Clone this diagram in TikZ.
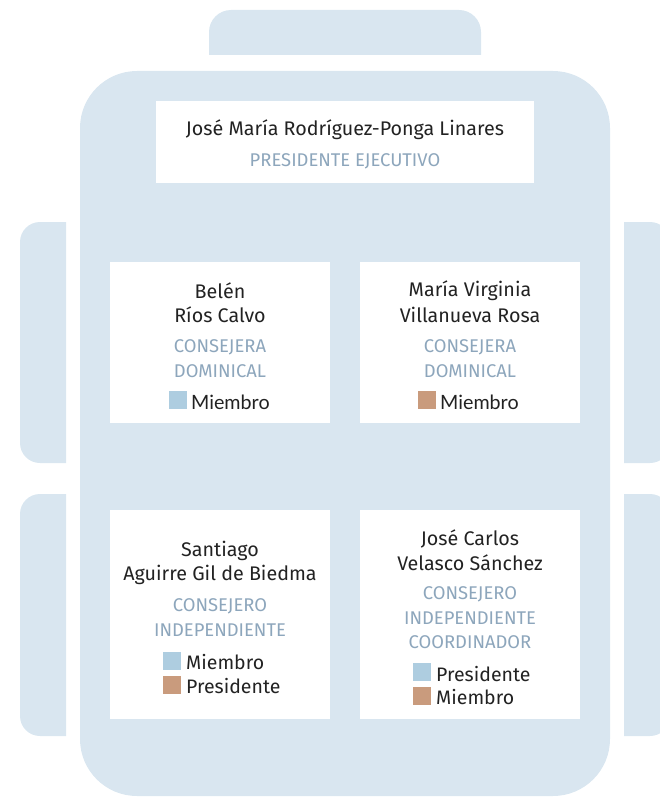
\documentclass[tikz,border=0pt]{standalone}
\usepackage{fontspec}
\setmainfont{Fira Sans}
\newfontfamily\legendfont{Lato}
\definecolor{bodyblue}{HTML}{D9E6F0}
\definecolor{roletext}{HTML}{8DA6BC}
\definecolor{nametext}{HTML}{222222}
\definecolor{sqblue}{HTML}{AECDE0}
\definecolor{sqtan}{HTML}{C99B7D}
\tikzset{
  namel/.style={text=nametext, font=\fontsize{19.7}{22}\selectfont, inner sep=0pt, anchor=center},
  rolel/.style={text=roletext, font=\fontsize{18.4}{21}\selectfont, inner sep=0pt, anchor=center},
  legl/.style={text=nametext, font=\fontsize{19.5}{22}\selectfont, inner sep=0pt, anchor=west},
  leglato/.style={legl, font=\legendfont\fontsize{19.7}{22}\selectfont},
  sq/.style={minimum size=18pt, inner sep=0pt, draw=none, anchor=west},
}
\begin{document}
\begin{tikzpicture}[x=1pt,y=-1pt]
\useasboundingbox (0,0) rectangle (659,797);
% background shapes
\fill[bodyblue] (209,55) [rounded corners=22] -- (209,10) -- (481,10) [sharp corners] -- (481,55) -- cycle;
\fill[bodyblue, rounded corners=57] (80,71) rectangle (610,796);
\fill[bodyblue] (66,222) [rounded corners=20] -- (20,222) -- (20,463) [sharp corners] -- (66,463) -- cycle;
\fill[bodyblue] (66,494) [rounded corners=20] -- (20,494) -- (20,736) [sharp corners] -- (66,736) -- cycle;
\fill[bodyblue] (624,222) [rounded corners=20] -- (670,222) -- (670,463) [sharp corners] -- (624,463) -- cycle;
\fill[bodyblue] (624,494) [rounded corners=20] -- (670,494) -- (670,736) [sharp corners] -- (624,736) -- cycle;
% cards
\fill[white] (156,101) rectangle (534,183);
\fill[white] (110,262) rectangle (330,423);
\fill[white] (360,262) rectangle (580,423);
\fill[white] (110,510) rectangle (330,719);
\fill[white] (360,510) rectangle (580,719);
% top
\node[namel] (p1) at (345,130) {José María Rodríguez-Ponga Linares};
\node[rolel] (p1r) at (345,161) {PRESIDENTE EJECUTIVO};
% Belen
\node[namel] (b1) at (220,291) {Belén};
\node[namel] (b2) at (220,315) {Ríos Calvo};
\node[rolel] (b3) at (220,347) {CONSEJERA};
\node[rolel] (b4) at (220,371) {DOMINICAL};
\node[sq, fill=sqblue] (bs) at (169,400) {};
\node[leglato] (bl) at (191,402) {Miembro};
% Maria
\node[namel] (m1) at (470,291) {María Virginia};
\node[namel] (m2) at (470,315) {Villanueva Rosa};
\node[rolel] (m3) at (470,347) {CONSEJERA};
\node[rolel] (m4) at (470,371) {DOMINICAL};
\node[sq, fill=sqtan] (ms) at (418,400) {};
\node[leglato] (ml) at (440,402) {Miembro};
% Santiago
\node[namel] (s1) at (220,551) {Santiago};
\node[namel] (s2) at (220,575) {Aguirre Gil de Biedma};
\node[rolel] (s3) at (220,606) {CONSEJERO};
\node[rolel] (s4) at (220,630) {INDEPENDIENTE};
\node[sq, fill=sqblue] (ss1) at (163,661) {};
\node[legl] (sl1) at (186,662) {Miembro};
\node[sq, fill=sqtan] (ss2) at (163,685) {};
\node[legl] (sl2) at (186,686) {Presidente};
% Jose Carlos
\node[namel] (j1) at (470,539) {José Carlos};
\node[namel] (j2) at (470,563) {Velasco Sánchez};
\node[rolel] (j3) at (470,594) {CONSEJERO};
\node[rolel] (j4) at (470,618) {INDEPENDIENTE};
\node[rolel] (j5) at (470,642) {COORDINADOR};
\node[sq, fill=sqblue] (js1) at (413,672) {};
\node[legl] (jl1) at (436,674) {Presidente};
\node[sq, fill=sqtan] (js2) at (413,696) {};
\node[legl] (jl2) at (436,697) {Miembro};
\end{tikzpicture}
\end{document}
